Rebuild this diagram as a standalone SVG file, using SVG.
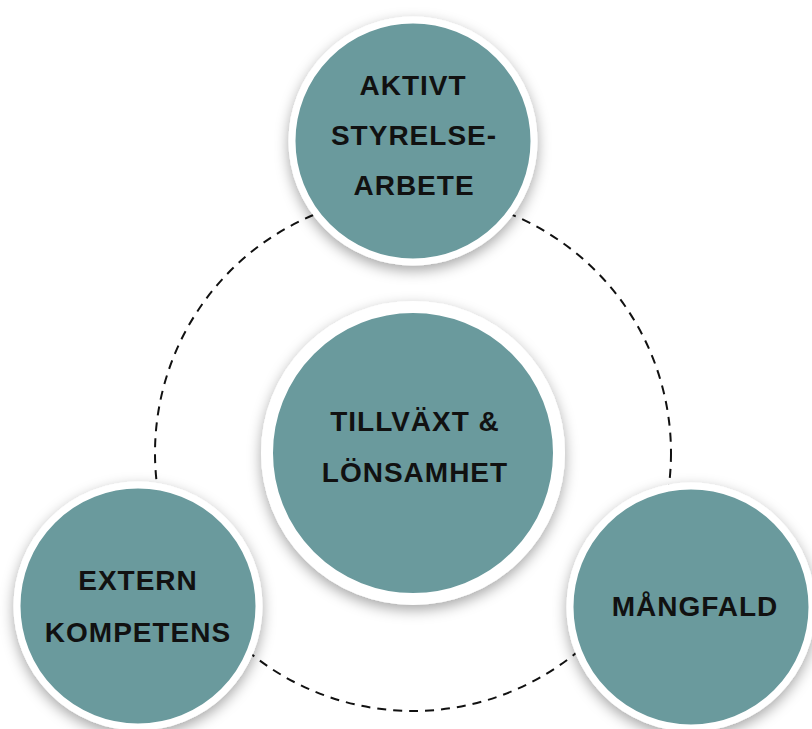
<svg xmlns="http://www.w3.org/2000/svg" width="812" height="729" viewBox="0 0 812 729">
  <defs>
    <filter id="sh" x="-30%" y="-30%" width="160%" height="160%">
      <feDropShadow dx="0" dy="5" stdDeviation="7" flood-color="#000" flood-opacity="0.35"/>
    </filter>
    <style>
      .node { fill: #6A9A9D; stroke: #ffffff; stroke-width: 7; filter: url(#sh); }
      .center { stroke-width: 12; }
      .lbl { font-family: "Liberation Sans", Arial, sans-serif; font-weight: bold; font-size: 28px; letter-spacing: 1px; fill: #111111; text-anchor: middle; }
      .ring { fill: none; stroke: #111111; stroke-width: 2; stroke-dasharray: 9 7; }
    </style>
  </defs>
  <rect width="812" height="729" fill="#ffffff"/>
  <g id="connectors">
    <circle class="ring" cx="413" cy="453" r="258"/>
  </g>
  <g id="center-node">
    <circle class="node center" cx="413" cy="453" r="146"/>
    <text class="lbl" x="415" y="431">TILLVÄXT &amp;</text>
    <text class="lbl" x="415" y="482">LÖNSAMHET</text>
  </g>
  <g id="top-node">
    <circle class="node" cx="413" cy="141" r="121"/>
    <text class="lbl" x="413" y="95">AKTIVT</text>
    <text class="lbl" x="414" y="145">STYRELSE-</text>
    <text class="lbl" x="414" y="195">ARBETE</text>
  </g>
  <g id="left-node">
    <circle class="node" cx="138" cy="606" r="121"/>
    <text class="lbl" x="138" y="590">EXTERN</text>
    <text class="lbl" x="138" y="642">KOMPETENS</text>
  </g>
  <g id="right-node">
    <circle class="node" cx="691" cy="607" r="121"/>
    <text class="lbl" x="695" y="616">MÅNGFALD</text>
  </g>
</svg>
